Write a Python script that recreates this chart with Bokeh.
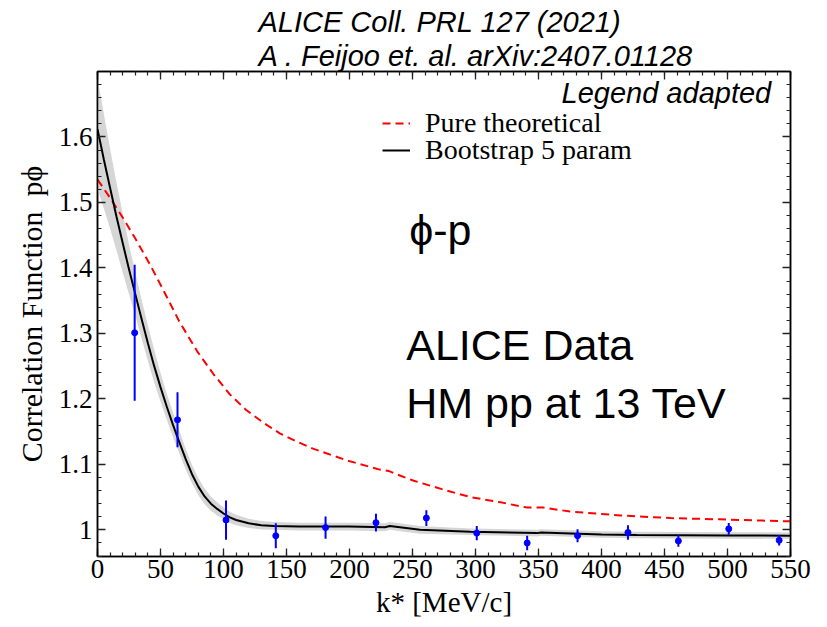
from bokeh.plotting import figure
from bokeh.models import (Label, Legend, LegendItem, LinearAxis, FixedTicker,
                          Range1d, CustomJSTickFormatter, Title)
from bokeh.embed import file_html
from bokeh.resources import INLINE

# ---------------- data ----------------
# ALICE data points
data_k = [29.5, 63.5, 102, 141.5, 181, 221, 261, 301, 341, 381, 421, 461, 501, 541]
data_cf = [1.301, 1.168, 1.015, 0.991, 1.0035, 1.011, 1.018, 0.995, 0.980, 0.991,
           0.996, 0.983, 1.0015, 0.984]
data_err = [0.104, 0.042, 0.030, 0.019, 0.017, 0.0135, 0.012, 0.011, 0.011, 0.010,
            0.011, 0.009, 0.009, 0.008]

# Bootstrap 5 param curve and its band
fit_k = [0, 5, 10, 15, 20, 25, 30, 35, 40, 45, 50, 55, 60, 63, 70, 75, 80, 85, 90, 95,
         100, 105, 110, 120, 130, 140, 160, 200, 228, 232, 240, 256, 296, 349, 352, 400,
         428, 500, 550]
fit_cf = [1.612, 1.566, 1.522, 1.479, 1.438, 1.398, 1.360, 1.322, 1.285, 1.250, 1.218,
          1.188, 1.160, 1.144, 1.108, 1.085, 1.066, 1.051, 1.040, 1.032, 1.025, 1.019,
          1.015, 1.010, 1.007, 1.006, 1.005, 1.005, 1.004, 1.006, 1.004, 1.000, 0.997,
          0.995, 0.996, 0.993, 0.992, 0.9915, 0.991]
band_lo = [1.520, 1.491, 1.460, 1.427, 1.393, 1.360, 1.327, 1.292, 1.258, 1.225, 1.196,
           1.168, 1.141, 1.126, 1.092, 1.071, 1.053, 1.039, 1.029, 1.022, 1.016, 1.0105,
           1.007, 1.003, 1.0005, 1.000, 0.999, 0.999, 0.998, 1.000, 0.998, 0.994, 0.992,
           0.990, 0.991, 0.988, 0.987, 0.9865, 0.986]
band_hi = [1.690, 1.636, 1.582, 1.531, 1.483, 1.436, 1.393, 1.352, 1.312, 1.275, 1.240,
           1.208, 1.179, 1.162, 1.124, 1.099, 1.079, 1.063, 1.051, 1.042, 1.034, 1.0275,
           1.023, 1.017, 1.0135, 1.012, 1.011, 1.011, 1.010, 1.012, 1.010, 1.006, 1.002,
           1.000, 1.001, 0.998, 0.997, 0.9965, 0.996]

# Pure theoretical curve
th_k = [0, 10, 20, 30, 42, 52, 65, 79, 92, 105, 118, 132, 145, 158, 171, 198, 224, 231,
        240, 251, 277, 296, 320, 341, 354, 375, 415, 455, 494, 550]
th_cf = [1.535, 1.507, 1.477, 1.445, 1.404, 1.367, 1.318, 1.273, 1.238, 1.207, 1.183,
         1.163, 1.147, 1.135, 1.124, 1.106, 1.092, 1.090, 1.083, 1.075, 1.060, 1.050,
         1.042, 1.034, 1.034, 1.028, 1.022, 1.018, 1.016, 1.013]

# axes ticks
x_ticks = [0, 50, 100, 150, 200, 250, 300, 350, 400, 450, 500, 550]
x_tick_labels = ["0", "50", "100", "150", "200", "250", "300", "350", "400", "450", "500", "550"]
y_ticks = [1.0, 1.1, 1.2, 1.3, 1.4, 1.5, 1.6]
y_tick_labels = ["1", "1.1", "1.2", "1.3", "1.4", "1.5", "1.6"]
x_minor = [i * 10 for i in range(56)]
y_minor = [round(0.96 + i * 0.02, 2) for i in range(37)]

# ---------------- figure ----------------
X0, X1 = 0, 550
Y0, Y1 = 0.9593, 1.700

p = figure(width=827, height=627, output_backend="svg", toolbar_location=None,
           x_range=Range1d(X0, X1), y_range=Range1d(Y0, Y1),
           min_border_left=97, min_border_right=37, min_border_top=71,
           min_border_bottom=71)
p.title.visible = False
p.xgrid.visible = False
p.ygrid.visible = False
p.outline_line_color = "black"
p.outline_line_width = 1.5
p.background_fill_color = "white"
p.border_fill_color = "white"

SERIF = "Liberation Serif"
SANS = "Liberation Sans"

FMT_CODE = """
const i = tv.findIndex(t => Math.abs(t - tick) < 1e-6);
return i >= 0 ? labs[i] : '';
"""
xfmt = CustomJSTickFormatter(args=dict(tv=x_ticks, labs=x_tick_labels), code=FMT_CODE)
yfmt = CustomJSTickFormatter(args=dict(tv=y_ticks, labs=y_tick_labels), code=FMT_CODE)
blank = CustomJSTickFormatter(code="return '';")


def style_axis(ax, ticks, minor, fmt):
    ax.ticker = FixedTicker(ticks=ticks, minor_ticks=minor)
    ax.formatter = fmt
    ax.axis_line_color = "black"
    ax.axis_line_width = 1.5
    ax.major_tick_in = 8
    ax.major_tick_out = 0
    ax.minor_tick_in = 4
    ax.minor_tick_out = 0
    ax.major_tick_line_color = "#222222"
    ax.minor_tick_line_color = "#222222"
    ax.major_tick_line_width = 1.3
    ax.minor_tick_line_width = 1.2
    ax.major_label_text_font = SERIF
    ax.major_label_text_font_size = "27px"
    ax.major_label_text_color = "black"


xa = p.xaxis[0]
style_axis(xa, x_ticks, x_minor, xfmt)
xa.major_label_standoff = 3
xa.axis_label = "k* [MeV/c]"
xa.axis_label_text_font = SERIF
xa.axis_label_text_font_size = "29px"
xa.axis_label_text_font_style = "normal"
xa.axis_label_text_color = "black"
xa.axis_label_standoff = 5

ya = p.yaxis[0]
style_axis(ya, y_ticks, y_minor, yfmt)
ya.major_label_standoff = 5
ya.axis_label = "Correlation Function\u00a0 p\u03d5"
ya.axis_label_text_font = SERIF
ya.axis_label_text_font_size = "30px"
ya.axis_label_text_font_style = "normal"
ya.axis_label_text_color = "black"
ya.axis_label_standoff = 8

top = LinearAxis()
style_axis(top, x_ticks, x_minor, blank)
top.major_label_standoff = 0
top.major_label_text_font_size = "0px"
p.add_layout(top, "above")
right = LinearAxis()
style_axis(right, y_ticks, y_minor, blank)
right.major_label_standoff = 0
right.major_label_text_font_size = "0px"
p.add_layout(right, "right")

# titles above the frame (second line first: closest to the frame)
for line in ["A . Feijoo et. al. arXiv:2407.01128", "ALICE Coll. PRL 127 (2021)"]:
    p.add_layout(Title(text=line, align="left", offset=161, standoff=0,
                       text_font=SANS, text_font_size="29px",
                       text_font_style="italic", text_color="black"), "above")

# ---------------- glyphs ----------------
p.varea(x=fit_k, y1=band_lo, y2=band_hi, fill_color="#d6d6d6", fill_alpha=1.0)
r_th = p.line(th_k, th_cf, line_color="#ff0000", line_width=2, line_dash="8 5")
r_fit = p.line(fit_k, fit_cf, line_color="black", line_width=2)

lo = [c - e for c, e in zip(data_cf, data_err)]
hi = [c + e for c, e in zip(data_cf, data_err)]
p.segment(x0=data_k, y0=lo, x1=data_k, y1=hi, line_color="#0000ff", line_width=2)
p.scatter(data_k, data_cf, size=6, color="#0000ff")

# ---------------- legend ----------------
def mk_legend(label, r, loc):
    lg = Legend(items=[LegendItem(label=label, renderers=[r])], location=loc)
    lg.background_fill_alpha = 0
    lg.border_line_alpha = 0
    lg.padding = 0
    lg.margin = 0
    lg.spacing = 0
    lg.glyph_width = 28
    lg.glyph_height = 20
    lg.label_standoff = 15
    lg.label_height = 20
    lg.label_text_font = SERIF
    lg.label_text_font_size = "28px"
    lg.label_text_color = "black"
    return lg

p.add_layout(mk_legend("Pure theoretical", r_th, (285, 417)))
p.add_layout(mk_legend("Bootstrap 5 param", r_fit, (285, 390)))

# ---------------- texts ----------------
def px_x(px):  # page pixel -> data x
    return (px - 97.3) / 1.26

def px_y(py):  # page pixel -> data y
    return Y1 - (py - 70.7) * (Y1 - Y0) / (556.0 - 70.7)

texts = [
    ("Legend adapted", 771, 102, SANS, 29, "italic", "right"),
    ("\u03d5-p", 409, 243, SANS, 43, "normal", "left"),
    ("ALICE Data", 406, 359, SANS, 43, "normal", "left"),
    ("HM pp at 13 TeV", 406, 417, SANS, 43, "normal", "left"),
]
for t, x, y, f, s, st, al in texts:
    p.add_layout(Label(x=px_x(x), y=px_y(y - 0.33 * s), text=t, text_font=f,
                       text_font_size=f"{s}px", text_font_style=st, text_align=al,
                       text_baseline="alphabetic", text_color="black"))

open("out.html", "w").write(file_html(p, INLINE))
